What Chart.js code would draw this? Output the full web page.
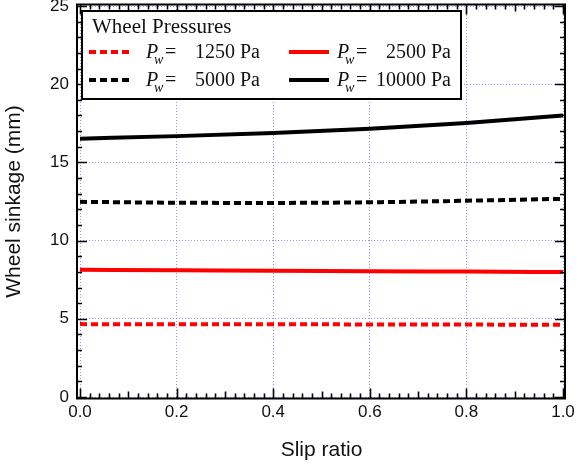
<!DOCTYPE html>
<html>
<head>
<meta charset="utf-8">
<script src="https://cdn.jsdelivr.net/npm/chart.js@4/dist/chart.umd.min.js"></script>
<style>
html,body{margin:0;padding:0;background:#fff;}
#wrap{width:578px;height:468px;}
</style>
</head>
<body>
<div id="wrap"><canvas id="c" width="578" height="468"></canvas></div>
<script>
const slipRatio = [0.0, 0.2, 0.4, 0.6, 0.8, 1.0];
const sink1250  = [4.66, 4.65, 4.65, 4.64, 4.63, 4.62];
const sink2500  = [8.13, 8.10, 8.08, 8.04, 8.02, 7.99];
const sink5000  = [12.48, 12.42, 12.41, 12.45, 12.55, 12.67];
const sink10000 = [16.52, 16.68, 16.88, 17.15, 17.52, 18.00];
const pressureLabels = ['1250', '2500', '5000', '10000'];
const legendTitle = 'Wheel Pressures';
const xTitle = 'Slip ratio';
const yTitle = 'Wheel sinkage (mm)';

const pts = arr => arr.map((v, i) => ({x: slipRatio[i], y: v}));
const base = {borderWidth: 4, pointRadius: 0, fill: false, tension: 0.4, cubicInterpolationMode: 'monotone'};
const datasets = [
  Object.assign({label: pressureLabels[0], data: pts(sink1250), borderColor: '#ff0000', borderDash: [7, 4]}, base),
  Object.assign({label: pressureLabels[1], data: pts(sink2500), borderColor: '#ff0000', borderDash: []}, base),
  Object.assign({label: pressureLabels[2], data: pts(sink5000), borderColor: '#000000', borderDash: [7, 4]}, base),
  Object.assign({label: pressureLabels[3], data: pts(sink10000), borderColor: '#000000', borderDash: []}, base)
];

const frameTicks = {
  id: 'frameTicks',
  afterDatasetsDraw(chart) {
    const ctx = chart.ctx, a = chart.chartArea, xs = chart.scales.x, ys = chart.scales.y;
    const L = a.left - 3, R = a.right + 2, T = a.top - 1.5, B = a.bottom + 1.5;
    ctx.save();
    ctx.strokeStyle = '#000';
    ctx.lineWidth = 2;
    ctx.setLineDash([]);
    ctx.strokeRect(L, T, R - L, B - T);
    ctx.lineWidth = 1.6;
    ctx.beginPath();
    for (let i = 0; i <= 50; i++) {
      const px = Math.round(xs.getPixelForValue(i * 0.02)) + 0.5;
      const len = i % 10 === 0 ? 10 : (i % 5 === 0 ? 7 : 5);
      ctx.moveTo(px, B); ctx.lineTo(px, B - len);
      ctx.moveTo(px, T); ctx.lineTo(px, T + len);
    }
    for (let v = 0; v <= 25; v++) {
      const py = Math.round(ys.getPixelForValue(v)) + 0.5;
      const len = v % 5 === 0 ? 10 : 5;
      ctx.moveTo(L, py); ctx.lineTo(L + len, py);
      ctx.moveTo(R, py); ctx.lineTo(R - len, py);
    }
    ctx.stroke();
    ctx.restore();
  }
};

const serifLegend = {
  id: 'serifLegend',
  afterDraw(chart) {
    const ctx = chart.ctx;
    const bx = 82, by = 11, bw = 379, bh = 88;
    ctx.save();
    ctx.fillStyle = '#fff';
    ctx.fillRect(bx, by, bw, bh);
    ctx.strokeStyle = '#000';
    ctx.lineWidth = 2;
    ctx.strokeRect(bx, by, bw, bh);
    ctx.fillStyle = '#111';
    ctx.textBaseline = 'alphabetic';
    ctx.font = '21px "Liberation Serif", "DejaVu Serif", serif';
    ctx.textAlign = 'left';
    ctx.fillText(legendTitle, 92, 33);
    const cols = [{lx: 89, px: 146, nr: 260}, {lx: 289, px: 337, nr: 451}];
    const rows = [{ly: 52, by: 58}, {ly: 80, by: 86}];
    chart.data.datasets.forEach((ds, i) => {
      const c = cols[i % 2], r = rows[Math.floor(i / 2)];
      ctx.strokeStyle = ds.borderColor;
      ctx.lineWidth = ds.borderWidth;
      ctx.setLineDash(ds.borderDash || []);
      ctx.beginPath();
      ctx.moveTo(c.lx, r.ly); ctx.lineTo(c.lx + 40, r.ly);
      ctx.stroke();
      ctx.setLineDash([]);
      ctx.fillStyle = '#111';
      ctx.textAlign = 'left';
      ctx.font = 'italic 20px "Liberation Serif", serif';
      ctx.fillText('P', c.px, r.by);
      ctx.font = 'italic 14px "Liberation Serif", serif';
      ctx.fillText('w', c.px + 8, r.by + 6);
      ctx.font = '20px "Liberation Serif", serif';
      ctx.fillText('=', c.px + 19, r.by);
      ctx.textAlign = 'right';
      ctx.fillText(ds.label + ' Pa', c.nr, r.by);
    });
    ctx.restore();
  }
};

Chart.defaults.font.family = '"Liberation Sans", Arial, sans-serif';
Chart.defaults.color = '#111';

new Chart(document.getElementById('c'), {
  type: 'line',
  data: {datasets},
  options: {
    responsive: false,
    animation: false,
    devicePixelRatio: 1,
    layout: {padding: {top: 6, right: 15, left: 0, bottom: 0}},
    plugins: {legend: {display: false}, tooltip: {enabled: false}},
    scales: {
      x: {
        type: 'linear', min: 0, max: 1,
        afterFit(s) { s.height = 71; s.paddingLeft = 0; s.paddingRight = 0; },
        ticks: {stepSize: 0.2, padding: 5, font: {size: 17}, color: '#111', callback: v => v.toFixed(1)},
        grid: {color: 'rgba(110,110,255,0.75)', lineWidth: 1, drawTicks: false},
        border: {display: false, dash: [1, 2]},
        title: {display: true, text: xTitle, font: {size: 21}, color: '#111', padding: {top: 0, bottom: 5}}
      },
      y: {
        type: 'linear', min: 0, max: 25,
        afterFit(s) { s.width = 80; s.paddingTop = 0; s.paddingBottom = 0; },
        ticks: {stepSize: 5, padding: 11, font: {size: 17}, color: '#111'},
        grid: {color: 'rgba(110,110,255,0.75)', lineWidth: 1, drawTicks: false},
        border: {display: false, dash: [1, 2]},
        title: {display: true, text: yTitle, font: {size: 21}, color: '#111', padding: {top: 2, bottom: 0}}
      }
    }
  },
  plugins: [frameTicks, serifLegend]
});
</script>
</body>
</html>
